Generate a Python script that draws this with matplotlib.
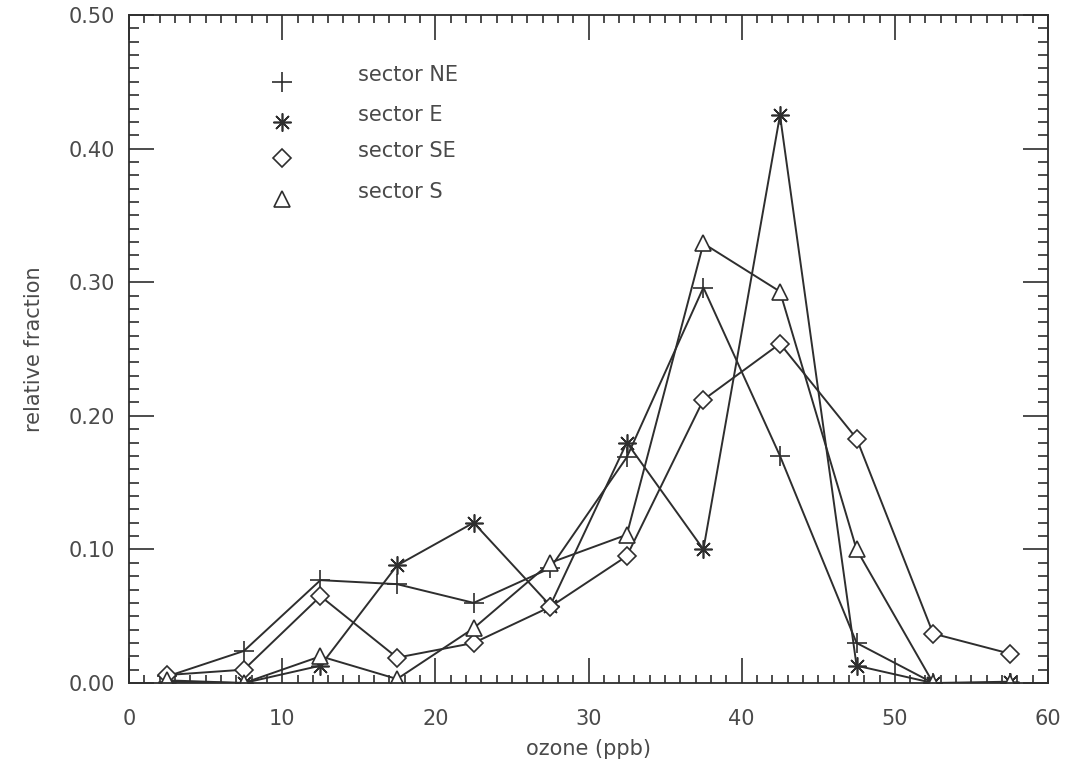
import matplotlib
matplotlib.use("Agg")
import matplotlib.pyplot as plt
from matplotlib.ticker import MultipleLocator, FormatStrFormatter

# ozone bin centres (ppb) and relative fraction per wind sector
ozone = [2.5, 7.5, 12.5, 17.5, 22.5, 27.5, 32.5, 37.5, 42.5, 47.5, 52.5, 57.5]
frac_ne = [0.005, 0.024, 0.077, 0.074, 0.060, 0.086, 0.169, 0.296, 0.170, 0.030, 0.000, 0.000]
frac_e = [0.001, 0.000, 0.013, 0.088, 0.120, 0.058, 0.180, 0.100, 0.425, 0.013, 0.000, 0.001]
frac_se = [0.006, 0.010, 0.065, 0.019, 0.030, 0.057, 0.095, 0.212, 0.254, 0.183, 0.037, 0.022]
frac_s = [0.002, 0.000, 0.020, 0.003, 0.041, 0.090, 0.111, 0.329, 0.293, 0.100, 0.000, 0.000]

labels = ["sector NE", "sector E", "sector SE", "sector S"]
asterisk = (8, 2, 0)
markers = ["+", asterisk, "D", "^"]
msizes = [15, 13, 9, 12]

ink = "#2e2e2e"
txt = "#4a4a4a"
plt.rcParams["font.family"] = ["DejaVu Sans"]

fig = plt.figure(figsize=(10.68, 7.69), dpi=100)
ax = fig.add_axes([0.1208, 0.1118, 0.8605, 0.8687])

series = [frac_ne, frac_e, frac_se, frac_s]
for ys, m, ms in zip(series, markers, msizes):
    ax.plot(ozone, ys, color=ink, lw=1.4, marker=m, ms=ms,
            mfc="white" if m in ("D", "^") else ink, mec=ink, mew=1.2)

# hand-drawn legend in the upper left
rows = [0.900, 0.840, 0.786, 0.725]
for lab, m, ms, yy in zip(labels, markers, msizes, rows):
    ax.plot([0.1665], [yy], transform=ax.transAxes, ls="none", marker=m,
            ms=ms, mfc="white" if m in ("D", "^") else ink, mec=ink,
            mew=1.2, clip_on=False)
    ax.text(0.249, yy + 0.010, lab, transform=ax.transAxes, fontsize=15,
            color=txt, va="center", ha="left")

ax.set_xlim(0, 60)
ax.set_ylim(0, 0.5)
ax.xaxis.set_major_locator(MultipleLocator(10))
ax.xaxis.set_minor_locator(MultipleLocator(1))
ax.yaxis.set_major_locator(MultipleLocator(0.1))
ax.yaxis.set_minor_locator(MultipleLocator(0.01))
ax.yaxis.set_major_formatter(FormatStrFormatter("%.2f"))
ax.tick_params(which="both", direction="in", top=True, right=True,
               color=ink, width=1.2, labelsize=15, labelcolor=txt)
ax.tick_params(which="major", length=18)
ax.tick_params(which="minor", length=7)
ax.tick_params(axis="x", which="minor", length=6)
ax.tick_params(axis="x", which="major", pad=19)
ax.tick_params(axis="y", which="major", pad=10)
for sp in ax.spines.values():
    sp.set_color(ink)
    sp.set_linewidth(1.3)

ax.set_xlabel("ozone (ppb)", fontsize=15, color=txt, labelpad=7)
ax.set_ylabel("relative fraction", fontsize=15, color=txt, labelpad=18)

fig.savefig("out.png", dpi=100)
